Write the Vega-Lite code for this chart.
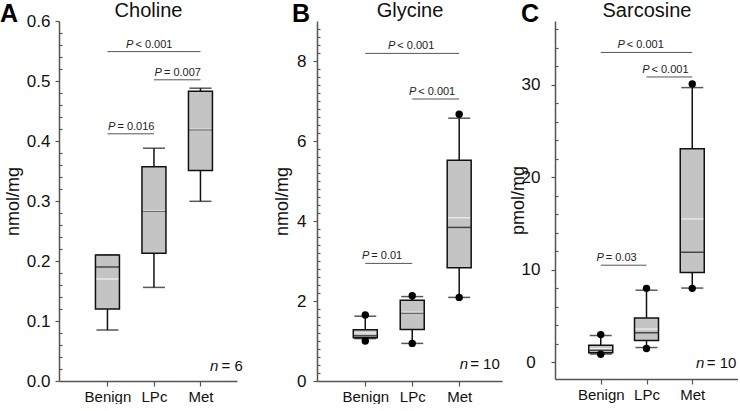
{
  "$schema": "https://vega.github.io/schema/vega-lite/v6.json",
  "padding": {"left": 0, "top": 0, "right": 0, "bottom": 0},
  "config": {"font": "Liberation Sans", "view": {"stroke": null}},
  "datasets": {
    "boxA": [
      {"group": "Benign", "lo": 0.085, "q1": 0.12, "median": 0.19, "mean": 0.17, "q3": 0.21, "hi": 0.21},
      {"group": "LPc", "lo": 0.156, "q1": 0.213, "median": 0.283, "mean": 0.284, "q3": 0.357, "hi": 0.388},
      {"group": "Met", "lo": 0.2995, "q1": 0.351, "median": 0.419, "mean": 0.42, "q3": 0.483, "hi": 0.488}
    ],
    "boxB": [
      {"group": "Benign", "lo": 1.06, "q1": 1.08, "median": 1.13, "mean": 1.2, "q3": 1.28, "hi": 1.62},
      {"group": "LPc", "lo": 0.94, "q1": 1.29, "median": 1.7, "mean": 1.72, "q3": 2.02, "hi": 2.11},
      {"group": "Met", "lo": 2.09, "q1": 2.83, "median": 3.84, "mean": 4.08, "q3": 5.52, "hi": 6.57}
    ],
    "boxC": [
      {"group": "Benign", "lo": 0.9, "q1": 1.05, "median": 1.3, "mean": 1.5, "q3": 1.85, "hi": 2.9},
      {"group": "LPc", "lo": 1.6, "q1": 2.35, "median": 3.2, "mean": 3.6, "q3": 4.8, "hi": 7.8},
      {"group": "Met", "lo": 8.03, "q1": 9.72, "median": 11.9, "mean": 15.5, "q3": 23.1, "hi": 29.7}
    ],
    "dotsB": [
      {"group": "Benign", "value": 1.65}, {"group": "Benign", "value": 1.0},
      {"group": "LPc", "value": 2.13}, {"group": "LPc", "value": 0.94},
      {"group": "Met", "value": 6.67}, {"group": "Met", "value": 2.09}
    ],
    "dotsC": [
      {"group": "Benign", "value": 3.0}, {"group": "Benign", "value": 0.88},
      {"group": "LPc", "value": 8.0}, {"group": "LPc", "value": 1.5},
      {"group": "Met", "value": 30.1}, {"group": "Met", "value": 8.0}
    ],
    "brA": [
      {"from": "Benign", "to": "Met", "y": 0.549, "label": "< 0.001"},
      {"from": "LPc", "to": "Met", "y": 0.502, "label": "= 0.007"},
      {"from": "Benign", "to": "LPc", "y": 0.412, "label": "= 0.016"}
    ],
    "brB": [
      {"from": "Benign", "to": "Met", "y": 8.19, "label": "< 0.001"},
      {"from": "LPc", "to": "Met", "y": 7.05, "label": "<  0.001"},
      {"from": "Benign", "to": "LPc", "y": 2.94, "label": "= 0.01"}
    ],
    "brC": [
      {"from": "Benign", "to": "Met", "y": 33.5, "label": "< 0.001"},
      {"from": "LPc", "to": "Met", "y": 30.85, "label": "< 0.001"},
      {"from": "Benign", "to": "LPc", "y": 10.5, "label": "= 0.03"}
    ],
    "nA": [{"group": "Met", "label": "= 6"}],
    "nB": [{"group": "Met", "label": "= 10"}],
    "nC": [{"group": "Met", "label": "= 10"}]
  },
  "spacing": 30,
  "hconcat": [
    {
      "width": 178, "height": 360,
      "title": {"text": "A", "anchor": "start", "frame": "group", "dx": -59, "dy": 27, "offset": 0, "fontSize": 25, "fontWeight": "bold", "color": "#000"},
      "data": {"name": "boxA"},
      "layer": [
        {"mark": {"type": "rule", "color": "#111", "strokeWidth": 1.5},
         "encoding": {
           "x": {"field": "group", "type": "nominal", "scale": {"type": "point", "domain": ["Benign", "LPc", "Met"], "padding": 0.914, "align": 0.57},
                 "axis": {"orient": "bottom", "title": null, "labelAngle": 0, "labelFontSize": 15, "labelPadding": 3, "labelColor": "#111", "tickSize": 5, "tickColor": "#555", "tickWidth": 1.2, "domainColor": "#555", "domainWidth": 1.5, "grid": false}},
           "y": {"field": "lo", "type": "quantitative", "scale": {"domain": [0, 0.6], "nice": false, "zero": false},
                 "axis": {"orient": "left", "values": [0, 0.1, 0.2, 0.3, 0.4, 0.5, 0.6], "format": ".1f", "title": "nmol/mg", "titleFontSize": 18, "titleFontWeight": "normal", "titleColor": "#111", "titlePadding": 4, "labelFontSize": 17, "labelColor": "#111", "labelPadding": 5, "tickSize": 4, "tickColor": "#555", "tickWidth": 1.2, "domainColor": "#555", "domainWidth": 1.5, "grid": false}},
           "y2": {"field": "hi"}
         }},
        {"mark": {"type": "tick", "color": "#111", "thickness": 1.5, "size": 22},
         "encoding": {"x": {"field": "group", "type": "nominal", "axis": null}, "y": {"field": "lo", "type": "quantitative", "axis": null}}},
        {"mark": {"type": "tick", "color": "#111", "thickness": 1.5, "size": 22},
         "encoding": {"x": {"field": "group", "type": "nominal", "axis": null}, "y": {"field": "hi", "type": "quantitative", "axis": null}}},
        {"mark": {"type": "bar", "fill": "#c4c4c4", "stroke": "#111", "strokeWidth": 1.5, "size": 24},
         "encoding": {"x": {"field": "group", "type": "nominal", "axis": null}, "y": {"field": "q1", "type": "quantitative", "axis": null}, "y2": {"field": "q3"}}},
        {"mark": {"type": "tick", "color": "#111", "thickness": 1.5, "size": 23},
         "encoding": {"x": {"field": "group", "type": "nominal", "axis": null}, "y": {"field": "median", "type": "quantitative", "axis": null}}},
        {"mark": {"type": "tick", "color": "#ffffff", "thickness": 1.3, "size": 22},
         "encoding": {"x": {"field": "group", "type": "nominal", "axis": null}, "y": {"field": "mean", "type": "quantitative", "axis": null}}},
        {"data": {"name": "brA"},
         "mark": {"type": "rule", "color": "#555", "strokeWidth": 1},
         "encoding": {
           "x": {"field": "from", "type": "nominal", "axis": {"orient": "top", "title": "Choline", "titleFontSize": 20, "titleFontWeight": "normal", "titleColor": "#111", "titlePadding": 1, "labels": false, "ticks": false, "domain": false, "grid": false}},
           "x2": {"field": "to"},
           "y": {"field": "y", "type": "quantitative", "axis": {"orient": "left", "values": [0.02, 0.04, 0.06, 0.08, 0.12, 0.14, 0.16, 0.18, 0.22, 0.24, 0.26, 0.28, 0.32, 0.34, 0.36, 0.38, 0.42, 0.44, 0.46, 0.48, 0.52, 0.54, 0.56, 0.58], "labels": false, "domain": false, "tickSize": 3, "offset": -3, "tickColor": "#555", "tickWidth": 1.2, "title": null, "grid": false}}
         }},
        {"data": {"name": "brA"}, "transform": [{"filter": "datum.from == 'Benign' && datum.to == 'Met'"}],
         "mark": {"type": "text", "text": "P", "fontStyle": "italic", "fontSize": 11, "align": "right", "baseline": "alphabetic", "dx": 26, "dy": -4, "color": "#222"},
         "encoding": {"x": {"field": "from", "type": "nominal", "axis": null}, "y": {"field": "y", "type": "quantitative", "axis": null}}},
        {"data": {"name": "brA"}, "transform": [{"filter": "datum.from == 'Benign' && datum.to == 'Met'"}],
         "mark": {"type": "text", "fontSize": 11, "align": "left", "baseline": "alphabetic", "dx": 28, "dy": -4, "color": "#222"},
         "encoding": {"x": {"field": "from", "type": "nominal", "axis": null}, "y": {"field": "y", "type": "quantitative", "axis": null}, "text": {"field": "label"}}},
        {"data": {"name": "brA"}, "transform": [{"filter": "!(datum.from == 'Benign' && datum.to == 'Met')"}],
         "mark": {"type": "text", "text": "P", "fontStyle": "italic", "fontSize": 11, "align": "right", "baseline": "alphabetic", "dx": 8, "dy": -4, "color": "#222"},
         "encoding": {"x": {"field": "from", "type": "nominal", "axis": null}, "y": {"field": "y", "type": "quantitative", "axis": null}}},
        {"data": {"name": "brA"}, "transform": [{"filter": "!(datum.from == 'Benign' && datum.to == 'Met')"}],
         "mark": {"type": "text", "fontSize": 11, "align": "left", "baseline": "alphabetic", "dx": 10, "dy": -4, "color": "#222"},
         "encoding": {"x": {"field": "from", "type": "nominal", "axis": null}, "y": {"field": "y", "type": "quantitative", "axis": null}, "text": {"field": "label"}}},
        {"data": {"name": "nA"},
         "mark": {"type": "text", "text": "n", "fontStyle": "italic", "fontSize": 15, "align": "right", "baseline": "alphabetic", "dx": 18, "color": "#111"},
         "encoding": {"x": {"field": "group", "type": "nominal", "axis": null}, "y": {"datum": 0.017, "type": "quantitative", "axis": null}}},
        {"data": {"name": "nA"},
         "mark": {"type": "text", "fontSize": 15, "align": "left", "baseline": "alphabetic", "dx": 21, "color": "#111"},
         "encoding": {"x": {"field": "group", "type": "nominal", "axis": null}, "y": {"datum": 0.017, "type": "quantitative", "axis": null}, "text": {"field": "label"}}}
      ],
      "resolve": {"axis": {"x": "independent", "y": "independent"}}
    },
    {
      "spacing": 7,
      "hconcat": [
        {
          "width": 185, "height": 360,
          "title": {"text": "B", "anchor": "start", "frame": "group", "dx": -25, "dy": 27, "offset": 0, "fontSize": 25, "fontWeight": "bold", "color": "#000"},
          "data": {"name": "boxB"},
          "layer": [
            {"mark": {"type": "rule", "color": "#111", "strokeWidth": 1.5},
             "encoding": {
               "x": {"field": "group", "type": "nominal", "scale": {"type": "point", "domain": ["Benign", "LPc", "Met"], "padding": 0.97, "align": 0.53},
                     "axis": {"orient": "bottom", "title": null, "labelAngle": 0, "labelFontSize": 15, "labelPadding": 3, "labelColor": "#111", "tickSize": 5, "tickColor": "#555", "tickWidth": 1.2, "domainColor": "#555", "domainWidth": 1.5, "grid": false}},
               "y": {"field": "lo", "type": "quantitative", "scale": {"domain": [0, 9], "nice": false, "zero": false},
                     "axis": {"orient": "left", "values": [0, 2, 4, 6, 8], "title": "nmol/mg", "titleFontSize": 18, "titleFontWeight": "normal", "titleColor": "#111", "titlePadding": 5, "labelFontSize": 17, "labelColor": "#111", "labelPadding": 7, "tickSize": 4, "tickColor": "#555", "tickWidth": 1.2, "domainColor": "#555", "domainWidth": 1.5, "grid": false}},
               "y2": {"field": "hi"}
             }},
            {"mark": {"type": "tick", "color": "#111", "thickness": 1.5, "size": 22},
             "encoding": {"x": {"field": "group", "type": "nominal", "axis": null}, "y": {"field": "lo", "type": "quantitative", "axis": null}}},
            {"mark": {"type": "tick", "color": "#111", "thickness": 1.5, "size": 22},
             "encoding": {"x": {"field": "group", "type": "nominal", "axis": null}, "y": {"field": "hi", "type": "quantitative", "axis": null}}},
            {"mark": {"type": "bar", "fill": "#c4c4c4", "stroke": "#111", "strokeWidth": 1.5, "size": 24},
             "encoding": {"x": {"field": "group", "type": "nominal", "axis": null}, "y": {"field": "q1", "type": "quantitative", "axis": null}, "y2": {"field": "q3"}}},
            {"mark": {"type": "tick", "color": "#111", "thickness": 1.5, "size": 23},
             "encoding": {"x": {"field": "group", "type": "nominal", "axis": null}, "y": {"field": "median", "type": "quantitative", "axis": null}}},
            {"mark": {"type": "tick", "color": "#ffffff", "thickness": 1.3, "size": 22},
             "encoding": {"x": {"field": "group", "type": "nominal", "axis": null}, "y": {"field": "mean", "type": "quantitative", "axis": null}}},
            {"data": {"name": "dotsB"},
             "mark": {"type": "point", "filled": true, "color": "#000", "size": 55, "opacity": 1},
             "encoding": {"x": {"field": "group", "type": "nominal", "axis": null}, "y": {"field": "value", "type": "quantitative", "axis": null}}},
            {"data": {"name": "brB"},
             "mark": {"type": "rule", "color": "#555", "strokeWidth": 1},
             "encoding": {
               "x": {"field": "from", "type": "nominal", "axis": {"orient": "top", "title": "Glycine", "titleFontSize": 20, "titleFontWeight": "normal", "titleColor": "#111", "titlePadding": 1, "labels": false, "ticks": false, "domain": false, "grid": false}},
               "x2": {"field": "to"},
               "y": {"field": "y", "type": "quantitative", "axis": {"orient": "left", "values": [0.2, 0.4, 0.6, 0.8, 1, 1.2, 1.4, 1.6, 1.8, 2.2, 2.4, 2.6, 2.8, 3, 3.2, 3.4, 3.6, 3.8, 4.2, 4.4, 4.6, 4.8, 5, 5.2, 5.4, 5.6, 5.8, 6.2, 6.4, 6.6, 6.8, 7, 7.2, 7.4, 7.6, 7.8, 8.2, 8.4, 8.6, 8.8], "labels": false, "domain": false, "tickSize": 3, "offset": -3, "tickColor": "#555", "tickWidth": 1.2, "title": null, "grid": false}}
             }},
            {"data": {"name": "brB"}, "transform": [{"filter": "datum.from == 'Benign' && datum.to == 'Met'"}],
             "mark": {"type": "text", "text": "P", "fontStyle": "italic", "fontSize": 11, "align": "right", "baseline": "alphabetic", "dx": 30, "dy": -4, "color": "#222"},
             "encoding": {"x": {"field": "from", "type": "nominal", "axis": null}, "y": {"field": "y", "type": "quantitative", "axis": null}}},
            {"data": {"name": "brB"}, "transform": [{"filter": "datum.from == 'Benign' && datum.to == 'Met'"}],
             "mark": {"type": "text", "fontSize": 11, "align": "left", "baseline": "alphabetic", "dx": 32, "dy": -4, "color": "#222"},
             "encoding": {"x": {"field": "from", "type": "nominal", "axis": null}, "y": {"field": "y", "type": "quantitative", "axis": null}, "text": {"field": "label"}}},
            {"data": {"name": "brB"}, "transform": [{"filter": "!(datum.from == 'Benign' && datum.to == 'Met')"}],
             "mark": {"type": "text", "text": "P", "fontStyle": "italic", "fontSize": 11, "align": "right", "baseline": "alphabetic", "dx": 4, "dy": -4, "color": "#222"},
             "encoding": {"x": {"field": "from", "type": "nominal", "axis": null}, "y": {"field": "y", "type": "quantitative", "axis": null}}},
            {"data": {"name": "brB"}, "transform": [{"filter": "!(datum.from == 'Benign' && datum.to == 'Met')"}],
             "mark": {"type": "text", "fontSize": 11, "align": "left", "baseline": "alphabetic", "dx": 6, "dy": -4, "color": "#222"},
             "encoding": {"x": {"field": "from", "type": "nominal", "axis": null}, "y": {"field": "y", "type": "quantitative", "axis": null}, "text": {"field": "label"}}},
            {"data": {"name": "nB"},
             "mark": {"type": "text", "text": "n", "fontStyle": "italic", "fontSize": 15, "align": "right", "baseline": "alphabetic", "dx": 9, "color": "#111"},
             "encoding": {"x": {"field": "group", "type": "nominal", "axis": null}, "y": {"datum": 0.3, "type": "quantitative", "axis": null}}},
            {"data": {"name": "nB"},
             "mark": {"type": "text", "fontSize": 15, "align": "left", "baseline": "alphabetic", "dx": 11, "color": "#111"},
             "encoding": {"x": {"field": "group", "type": "nominal", "axis": null}, "y": {"datum": 0.3, "type": "quantitative", "axis": null}, "text": {"field": "label"}}}
          ],
          "resolve": {"axis": {"x": "independent", "y": "independent"}}
        },
        {
          "width": 183, "height": 358,
          "title": {"text": "C", "anchor": "start", "frame": "group", "dx": -34, "dy": 27, "offset": 0, "fontSize": 25, "fontWeight": "bold", "color": "#000"},
          "data": {"name": "boxC"},
          "layer": [
            {"mark": {"type": "rule", "color": "#111", "strokeWidth": 1.5},
             "encoding": {
               "x": {"field": "group", "type": "nominal", "scale": {"type": "point", "domain": ["Benign", "LPc", "Met"], "padding": 1.0},
                     "axis": {"orient": "bottom", "title": null, "labelAngle": 0, "labelFontSize": 15, "labelPadding": 3, "labelColor": "#111", "tickSize": 5, "tickColor": "#555", "tickWidth": 1.2, "domainColor": "#555", "domainWidth": 1.5, "grid": false}},
               "y": {"field": "lo", "type": "quantitative", "scale": {"domain": [-1.8, 36.9], "nice": false, "zero": false},
                     "axis": {"orient": "left", "values": [0, 10, 20, 30], "title": "pmol/mg", "titleFontSize": 18, "titleFontWeight": "normal", "titleColor": "#111", "titlePadding": -6, "labelFontSize": 17, "labelColor": "#111", "labelAlign": "center", "labelPadding": 20.5, "tickSize": 4, "tickColor": "#555", "tickWidth": 1.2, "domainColor": "#555", "domainWidth": 1.5, "grid": false}},
               "y2": {"field": "hi"}
             }},
            {"mark": {"type": "tick", "color": "#111", "thickness": 1.5, "size": 22},
             "encoding": {"x": {"field": "group", "type": "nominal", "axis": null}, "y": {"field": "lo", "type": "quantitative", "axis": null}}},
            {"mark": {"type": "tick", "color": "#111", "thickness": 1.5, "size": 22},
             "encoding": {"x": {"field": "group", "type": "nominal", "axis": null}, "y": {"field": "hi", "type": "quantitative", "axis": null}}},
            {"mark": {"type": "bar", "fill": "#c4c4c4", "stroke": "#111", "strokeWidth": 1.5, "size": 24},
             "encoding": {"x": {"field": "group", "type": "nominal", "axis": null}, "y": {"field": "q1", "type": "quantitative", "axis": null}, "y2": {"field": "q3"}}},
            {"mark": {"type": "tick", "color": "#111", "thickness": 1.5, "size": 23},
             "encoding": {"x": {"field": "group", "type": "nominal", "axis": null}, "y": {"field": "median", "type": "quantitative", "axis": null}}},
            {"mark": {"type": "tick", "color": "#ffffff", "thickness": 1.3, "size": 22},
             "encoding": {"x": {"field": "group", "type": "nominal", "axis": null}, "y": {"field": "mean", "type": "quantitative", "axis": null}}},
            {"data": {"name": "dotsC"},
             "mark": {"type": "point", "filled": true, "color": "#000", "size": 55, "opacity": 1},
             "encoding": {"x": {"field": "group", "type": "nominal", "axis": null}, "y": {"field": "value", "type": "quantitative", "axis": null}}},
            {"data": {"name": "brC"},
             "mark": {"type": "rule", "color": "#555", "strokeWidth": 1},
             "encoding": {
               "x": {"field": "from", "type": "nominal", "axis": {"orient": "top", "title": "Sarcosine", "titleFontSize": 20, "titleFontWeight": "normal", "titleColor": "#111", "titlePadding": 1, "labels": false, "ticks": false, "domain": false, "grid": false}},
               "x2": {"field": "to"},
               "y": {"field": "y", "type": "quantitative", "axis": {"orient": "left", "values": [2, 4, 6, 8, 12, 14, 16, 18, 22, 24, 26, 28, 32, 34, 36], "labels": false, "domain": false, "tickSize": 3, "offset": -3, "tickColor": "#555", "tickWidth": 1.2, "title": null, "grid": false}}
             }},
            {"data": {"name": "brC"}, "transform": [{"filter": "datum.from == 'Benign' && datum.to == 'Met'"}],
             "mark": {"type": "text", "text": "P", "fontStyle": "italic", "fontSize": 11, "align": "right", "baseline": "alphabetic", "dx": 24, "dy": -4, "color": "#222"},
             "encoding": {"x": {"field": "from", "type": "nominal", "axis": null}, "y": {"field": "y", "type": "quantitative", "axis": null}}},
            {"data": {"name": "brC"}, "transform": [{"filter": "datum.from == 'Benign' && datum.to == 'Met'"}],
             "mark": {"type": "text", "fontSize": 11, "align": "left", "baseline": "alphabetic", "dx": 26, "dy": -4, "color": "#222"},
             "encoding": {"x": {"field": "from", "type": "nominal", "axis": null}, "y": {"field": "y", "type": "quantitative", "axis": null}, "text": {"field": "label"}}},
            {"data": {"name": "brC"}, "transform": [{"filter": "!(datum.from == 'Benign' && datum.to == 'Met')"}],
             "mark": {"type": "text", "text": "P", "fontStyle": "italic", "fontSize": 11, "align": "right", "baseline": "alphabetic", "dx": 3, "dy": -4, "color": "#222"},
             "encoding": {"x": {"field": "from", "type": "nominal", "axis": null}, "y": {"field": "y", "type": "quantitative", "axis": null}}},
            {"data": {"name": "brC"}, "transform": [{"filter": "!(datum.from == 'Benign' && datum.to == 'Met')"}],
             "mark": {"type": "text", "fontSize": 11, "align": "left", "baseline": "alphabetic", "dx": 5, "dy": -4, "color": "#222"},
             "encoding": {"x": {"field": "from", "type": "nominal", "axis": null}, "y": {"field": "y", "type": "quantitative", "axis": null}, "text": {"field": "label"}}},
            {"data": {"name": "nC"},
             "mark": {"type": "text", "text": "n", "fontStyle": "italic", "fontSize": 15, "align": "right", "baseline": "alphabetic", "dx": 12, "color": "#111"},
             "encoding": {"x": {"field": "group", "type": "nominal", "axis": null}, "y": {"datum": -0.64, "type": "quantitative", "axis": null}}},
            {"data": {"name": "nC"},
             "mark": {"type": "text", "fontSize": 15, "align": "left", "baseline": "alphabetic", "dx": 14.5, "color": "#111"},
             "encoding": {"x": {"field": "group", "type": "nominal", "axis": null}, "y": {"datum": -0.64, "type": "quantitative", "axis": null}, "text": {"field": "label"}}}
          ],
          "resolve": {"axis": {"x": "independent", "y": "independent"}}
        }
      ]
    }
  ]
}
